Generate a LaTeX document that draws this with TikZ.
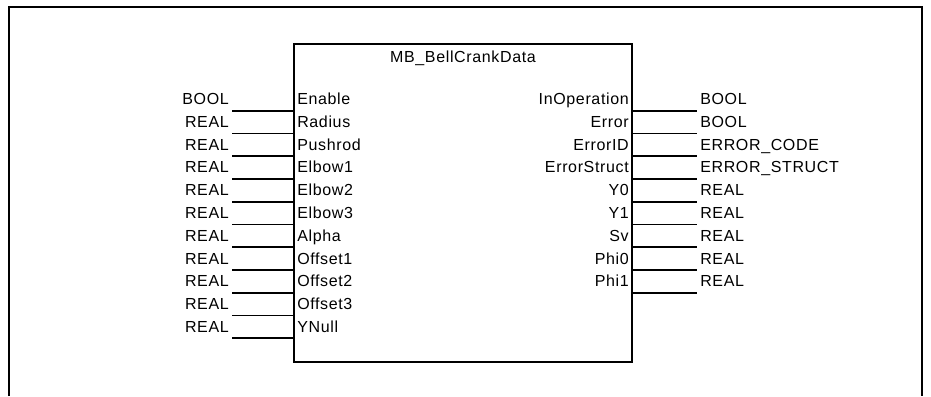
\documentclass[tikz,border=0pt]{standalone}
\usepackage{fontspec}
\setmainfont[LetterSpace=4]{Liberation Sans}
\usepackage{tikz}
\usetikzlibrary{positioning, calc}

\tikzset{
  pinname/.style={inner sep=0pt, font=\fontsize{12}{14}\selectfont},
  typename/.style={inner sep=0pt, font=\fontsize{12}{14}\selectfont},
  pinline/.style={line width=1.3pt},
}

\begin{document}
\begin{tikzpicture}[x=0.75pt, y=-0.75pt]
\useasboundingbox (0,0) rectangle (931,396);

% outer frame (open at the bottom)
\draw[line width=1.5pt] (9,396) -- (9,7) -- (922,7) -- (922,396);

% function block
\coordinate (fbnw) at (294,44);
\coordinate (fbse) at (632,362);
\draw[line width=1.2pt] (fbnw) rectangle (fbse);
\node[pinname, anchor=base] (title) at (463,62.4) {MB\_BellCrankData};

% inputs
\foreach \n/\t [count=\i from 0] in {Enable/BOOL, Radius/REAL, Pushrod/REAL,
    Elbow1/REAL, Elbow2/REAL, Elbow3/REAL, Alpha/REAL, Offset1/REAL,
    Offset2/REAL, Offset3/REAL, YNull/REAL} {
    \pgfmathsetmacro{\yb}{104.7 + 22.76*\i}
    \node[pinname, anchor=base west] (in\i) at (297,\yb) {\n};
    \node[typename, anchor=base east] (tin\i) at (229,\yb) {\t};
    \coordinate (inl\i) at (232,\yb+6);
    \draw[pinline] (inl\i) -- (fbnw |- inl\i);
}

% outputs
\foreach \n/\t [count=\i from 0] in {InOperation/BOOL, Error/BOOL,
    ErrorID/ERROR\_CODE, ErrorStruct/ERROR\_STRUCT, Y0/REAL, Y1/REAL,
    Sv/REAL, Phi0/REAL, Phi1/REAL} {
    \pgfmathsetmacro{\yb}{104.7 + 22.76*\i}
    \node[pinname, anchor=base east] (out\i) at (629,\yb) {\n};
    \node[typename, anchor=base west] (tout\i) at (700,\yb) {\t};
    \coordinate (outl\i) at (697,\yb+6);
    \draw[pinline] (fbse |- outl\i) -- (outl\i);
}
\end{tikzpicture}
\end{document}
